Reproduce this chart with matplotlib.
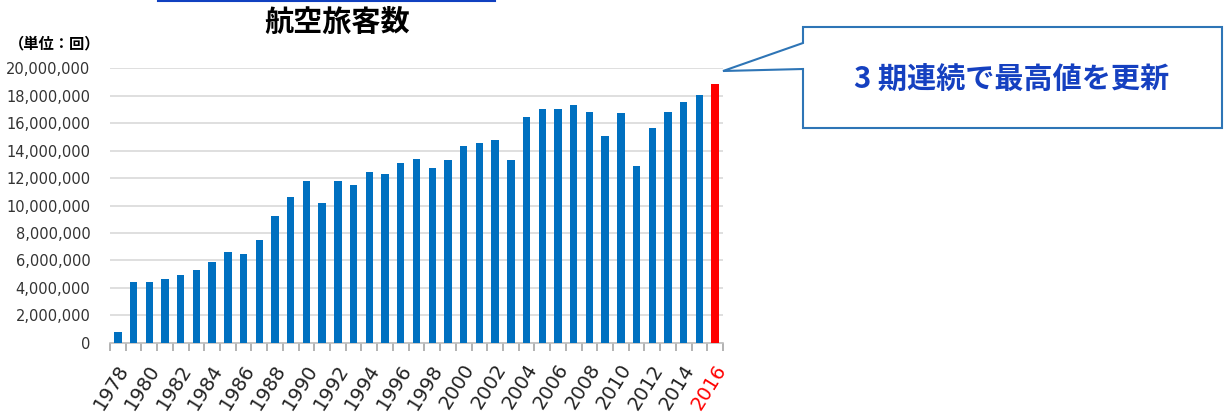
import matplotlib
matplotlib.use('Agg')
import matplotlib.pyplot as plt
import matplotlib.patches as mpatches
from matplotlib.lines import Line2D
from matplotlib.ticker import FuncFormatter, FixedLocator
import numpy as np

years = list(range(1978, 2017))
passengers = [
    800000, 4400000, 4400000, 4620000, 4910000, 5280000, 5880000, 6590000,
    6470000, 7460000, 9260000, 10600000, 11790000, 10180000, 11790000,
    11490000, 12420000, 12270000, 13120000, 13410000, 12730000, 13320000,
    14340000, 14560000, 14750000, 13320000, 16430000, 17060000, 17060000,
    17350000, 16810000, 15040000, 16760000, 12880000, 15630000, 16810000,
    17520000, 18030000, 18860000,
]
highlight_year = 2016

title = '航空旅客数'
unit_label = '（単位：回）'
callout_text = '3 期連続で最高値を更新'

JP = ['Noto Sans CJK JP', 'DejaVu Sans']

W, H = 1228, 412
fig = plt.figure(figsize=(W / 100, H / 100), dpi=100)

def px(x, y):
    # pixel coords (y down) -> figure fraction
    return x / W, 1 - y / H

left, top = px(110, 68.3)
right, bottom = px(723, 342.7)
ax = fig.add_axes([left, bottom, right - left, top - bottom])

x = np.arange(len(years))
colors = ['#ff0000' if y == highlight_year else '#0070c0' for y in years]
ax.bar(x, passengers, width=0.47, color=colors, zorder=3)

ax.set_xlim(-0.5, len(years) - 0.5)
ax.set_ylim(0, 20000000)
ax.set_yticks(np.arange(0, 20000001, 2000000))
ax.yaxis.set_major_formatter(FuncFormatter(lambda v, p: f'{int(v):,}'))
ax.grid(axis='y', color='#d9d9d9', linewidth=1.2, zorder=0)
ax.tick_params(axis='y', length=0, labelsize=10.5, labelcolor='#333333', pad=14)

for s in ['top', 'right', 'left']:
    ax.spines[s].set_visible(False)
ax.spines['bottom'].set_color('#bfbfbf')
ax.spines['bottom'].set_linewidth(1.2)

# tick marks between categories, labels every other year
ax.xaxis.set_major_locator(FixedLocator(x[::2] - 0.1))
ax.set_xticklabels([str(y) for y in years[::2]], rotation=58, ha='right',
                   rotation_mode='anchor', fontsize=14, color='#222222')
ax.tick_params(axis='x', which='major', length=0, pad=13)
ax.set_xticks(np.arange(-0.5, len(years), 1.0), minor=True)
ax.tick_params(axis='x', which='minor', length=6, color='#a6a6a6', width=1.2)
for lbl in ax.get_xticklabels():
    if lbl.get_text() == str(highlight_year):
        lbl.set_color('#ff0000')

# title and unit
tx, ty = px(337, 22)
fig.text(tx, ty, title, family=JP, fontsize=21, fontweight='bold',
         ha='center', va='center', color='#000000')
ux, uy = px(55, 43)
fig.text(ux, uy, unit_label, family=JP, fontsize=11, fontweight='bold',
         ha='center', va='center', color='#000000')

# partial blue line at the very top
x1, y1 = px(158, 0.6)
x2, _ = px(495, 0.6)
fig.add_artist(Line2D([x1, x2], [y1, y1], color='#1040c0', linewidth=1.5))

# callout box
pts = [(803, 27), (1222, 27), (1222, 128), (803, 128), (803, 69), (723, 71), (803, 43)]
poly = mpatches.Polygon([px(a, b) for a, b in pts], closed=True,
                        transform=fig.transFigure, facecolor='white',
                        edgecolor='#2e75b6', linewidth=1.5)
fig.add_artist(poly)
cx, cy = px(1012, 80)
fig.text(cx, cy, callout_text, family=JP, fontsize=21, fontweight='bold',
         ha='center', va='center', color='#1540c0')

fig.savefig('out.png', dpi=100)
